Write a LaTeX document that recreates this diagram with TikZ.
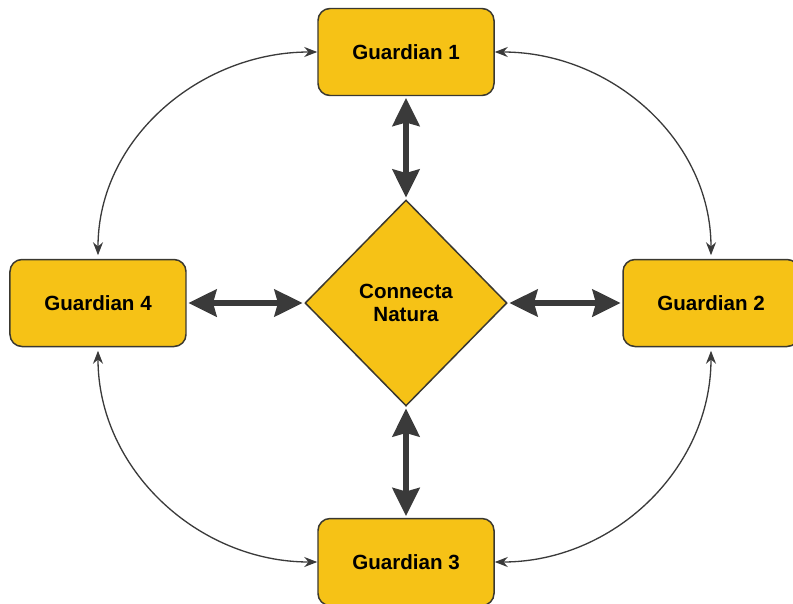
\documentclass[tikz,border=0pt]{standalone}
\usepackage{fontspec}
\setmainfont{Liberation Sans}
\usetikzlibrary{positioning,arrows.meta,shapes.geometric}
\definecolor{natgold}{HTML}{F6C216}
\definecolor{natline}{HTML}{3A3830}
\definecolor{natarrow}{HTML}{3A3A3A}

\begin{document}
\begin{tikzpicture}[font=\bfseries\fontsize{11.7}{13.1}\selectfont,
                    node distance=5.1cm]
  \tikzstyle{guardian}=[rectangle,rounded corners=0.24cm,draw=natline,line width=0.85pt,
                        fill=natgold,minimum width=3.52cm,minimum height=1.74cm]
  \tikzstyle{hub}=[diamond,draw=natline,line width=0.85pt,fill=natgold,inner sep=0pt,
                   minimum width=4.04cm,minimum height=4.12cm,align=center]
  \tikzstyle{link}=[natarrow,line width=3.2pt,shorten >=1pt,shorten <=1pt,
                    {Stealth[length=0.56cm,width=0.54cm,inset=0.07cm]}-{Stealth[length=0.56cm,width=0.54cm,inset=0.07cm]}]
  \tikzstyle{ring}=[natarrow,line width=0.75pt,
                    {Stealth[length=0.26cm,width=0.2cm]}-{Stealth[length=0.26cm,width=0.2cm]}]

  \useasboundingbox (-8.12,-6.0) rectangle (7.74,6.06);

  \node[hub]      (cn)                                  {Connecta\\Natura};
  \node[guardian] (g1) [above of=cn,node distance=5.02cm] {Guardian 1};
  \node[guardian] (g2) [right of=cn,node distance=6.1cm]  {Guardian 2};
  \node[guardian] (g3) [below of=cn,node distance=5.18cm] {Guardian 3};
  \node[guardian] (g4) [left of=cn,node distance=6.16cm]  {Guardian 4};

  % hub links
  \draw[link] (g1) -- (cn);
  \draw[link] (g4) -- (cn);
  \draw[link] (cn) -- (g2);
  \draw[link] (cn) -- (g3);

  % outer ring
  \draw[ring] (g1.west) to[out=180,in=90] ([yshift=2pt]g4.north);
  \draw[ring] (g1.east) to[out=0,in=90]   ([yshift=2pt]g2.north);
  \draw[ring] ([yshift=-2pt]g4.south) to[out=-90,in=180] (g3.west);
  \draw[ring] ([yshift=-2pt]g2.south) to[out=-90,in=0]   (g3.east);
\end{tikzpicture}
\end{document}
